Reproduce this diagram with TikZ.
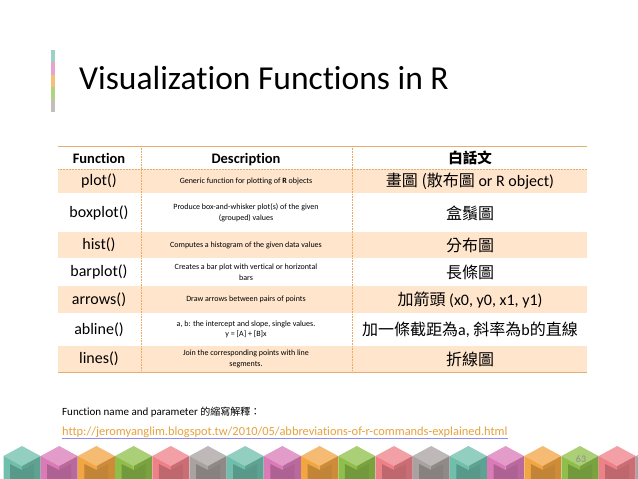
\documentclass[tikz,border=0pt]{standalone}
\usepackage{fontspec}
\setmainfont{Carlito}[Ligatures=NoCommon]
\newfontfamily\cjk{Noto Sans CJK TC}
\begin{document}
\begin{tikzpicture}[x=1pt,y=-1pt,
  fn/.style={font=\fontsize{16}{18}\selectfont,anchor=center},
  ds/.style={font=\fontsize{8}{10.5}\selectfont,align=center,anchor=center},
  zh/.style={font=\fontsize{16}{18}\selectfont,anchor=center},
  hd/.style={font=\bfseries\fontsize{14.5}{16}\selectfont,anchor=base},
  shade/.style={fill=orange!20!white,draw=none},
  vsep/.style={draw=orange!60!brown!70,densely dotted,line width=0.6pt}]
\definecolor{cT}{HTML}{6FBFAC}\definecolor{cP}{HTML}{DA7BB8}\definecolor{cO}{HTML}{F2A543}
\definecolor{cG}{HTML}{8FBF4A}\definecolor{cS}{HTML}{EE8088}\definecolor{cY}{HTML}{A8A2A0}
\definecolor{lineO}{HTML}{E3AE70}\definecolor{urlO}{HTML}{E6A23C}
\useasboundingbox (0,0) rectangle (638,479);
\fill[white] (0,0) rectangle (638,479);
% left colour bar
\foreach \c [count=\i from 0] in {cT,cP,cO,cG,cY}
  \fill[\c!70] (51,{50+\i*12.4}) rectangle (55,{50+(\i+1)*12.4});
\node[anchor=base west,font=\fontsize{33.5}{35}\selectfont,inner sep=0] (title) at (79,89) {Visualization Functions in R};
% shaded rows
\fill[shade] (58,169) rectangle (587,193);
\fill[shade] (58,232) rectangle (587,258);
\fill[shade] (58,286) rectangle (587,313);
\fill[shade] (58,346) rectangle (587,372);
\draw[lineO,line width=0.8pt] (58,146) -- (587,146);
\draw[lineO,line width=0.8pt] (58,372.5) -- (587,372.5);
\draw[lineO,densely dotted,line width=0.5pt] (58,169) -- (587,169);
\draw[vsep] (141,146) -- (141,372);
\draw[vsep] (352,146) -- (352,372);
% header
\node[hd] (h1) at (99,163) {Function};
\node[hd] (h2) at (246,163) {Description};
\node[hd] (h3) at (470,163) {\cjk 白話文};
% rows
\foreach \y/\f/\d/\z [count=\k] in {
 181/plot()/{Generic function for plotting of \textbf{R} objects}/{\cjk 畫圖 (散布圖 \normalfont or R object)},
 213/boxplot()/{Produce box-and-whisker plot(s) of the given\\(grouped) values}/{\cjk 盒鬚圖},
 245/hist()/{Computes a histogram of the given data values}/{\cjk 分布圖},
 272/barplot()/{Creates a bar plot with vertical or horizontal\\bars}/{\cjk 長條圖},
 299.5/arrows()/{Draw arrows between pairs of points}/{{\cjk 加箭頭} (x0, y0, x1, y1)},
 329.5/abline()/{a, b: the intercept and slope, single values.\\y = [A] + [B]x}/{{\cjk 加一條截距為}a, {\cjk 斜率為}b{\cjk 的直線}},
 359/lines()/{Join the corresponding points with line\\segments.}/{\cjk 折線圖}}
{
  \node[fn] (f\k) at (99,\y) {\f};
  \node[ds] (d\k) at (246,\y) {\d};
  \node[zh] (z\k) at (470,\y) {\z};
}
% footer texts
\node[anchor=base west,inner sep=0,font=\fontsize{11}{13}\selectfont] (note) at (62,415) {Function name and parameter {\cjk\fontsize{10}{12}\selectfont 的縮寫解釋：}};
\node[anchor=base west,inner sep=0,font=\fontsize{12.4}{14}\selectfont,text=urlO] (url) at (62,435) {http://jeromyanglim.blogspot.tw/2010/05/abbreviations-of-r-commands-explained.html};
\draw[blue!45,line width=0.6pt] ([yshift=-1pt]url.south west) -- ([yshift=-1pt]url.south east);
% cubes
\foreach \i in {0,...,17}{
  \pgfmathtruncatemacro{\m}{mod(\i,6)}
  \ifcase\m \def\cc{cT}\or\def\cc{cP}\or\def\cc{cO}\or\def\cc{cG}\or\def\cc{cS}\or\def\cc{cY}\fi
  \pgfmathsetmacro{\cx}{22+37.2*\i}
  \fill[\cc!75] (\cx,446) -- (\cx+18.5,456) -- (\cx,466) -- (\cx-18.5,456) -- cycle;
  \fill[\cc] (\cx-18.5,456) -- (\cx,466) -- (\cx,479) -- (\cx-18.5,479) -- cycle;
  \fill[\cc!85!black] (\cx+18.5,456) -- (\cx,466) -- (\cx,479) -- (\cx+18.5,479) -- cycle;
  \fill[\cc!80!black] (\cx-12,464) -- (\cx,470) -- (\cx+12,464) -- (\cx+12,479) -- (\cx-12,479) -- cycle;
}
\node[text=black!45,font=\fontsize{10}{12}\selectfont] (pg) at (581,459) {63};
\end{tikzpicture}
\end{document}
